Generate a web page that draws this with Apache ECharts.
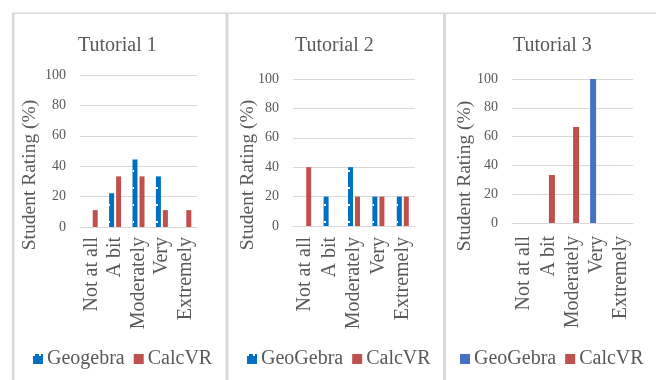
<!DOCTYPE html>
<html>
<head>
<meta charset="utf-8">
<script src="https://cdn.jsdelivr.net/npm/echarts@6/dist/echarts.min.js"></script>
<style>
  html, body { margin: 0; padding: 0; background: #fff; }
  #chart { width: 656px; height: 380px; }
</style>
</head>
<body>
<div id="chart"></div>
<script>
// Rating categories shared by all three tutorials
const categories = ['Not at all', 'A bit', 'Moderately', 'Very', 'Extremely'];

// Tutorial 1 ratings (%)
const t1Geogebra = [0, 22.2, 44.4, 33.3, 0];
const t1CalcVR = [11.1, 33.3, 33.3, 11.1, 11.1];

// Tutorial 2 ratings (%)
const t2GeoGebra = [0, 20, 40, 20, 20];
const t2CalcVR = [40, 0, 20, 20, 20];

// Tutorial 3 ratings (%)
const t3GeoGebra = [0, 0, 0, 100, 0];
const t3CalcVR = [0, 33.3, 66.7, 0, 0];

const panelTitles = ['Tutorial 1', 'Tutorial 2', 'Tutorial 3'];
const yAxisTitle = 'Student Rating (%)';

const FONT = 'Liberation Serif';
const TEXT = '#595959';
const GRIDLINE = '#d9d9d9';
const BLUE = '#0070c0';
const BLUE3 = '#4472c4';
const RED = '#c0504d';

// dotted fill used for the GeoGebra bars in the first two panels
const dots = {
  symbol: 'rect',
  symbolSize: 1,
  color: '#ffffff',
  dashArrayX: [1.5, 3.5],
  dashArrayY: [1.5, 14.5]
};

// series keys -> legend text
const legendText = {
  g1: 'Geogebra', c1: 'CalcVR',
  g2: 'GeoGebra', c2: 'CalcVR',
  g3: 'GeoGebra', c3: 'CalcVR'
};

const panels = [
  { left: 80, width: 117, top: 75, height: 152, barWidth: 5, barGap: '40%', labelMargin: 10,
    titleLeft: 78, nameX: 30, nameY: 175, legendLeft: 33,
    series: [['g1', t1Geogebra, BLUE, true], ['c1', t1CalcVR, RED, false]] },
  { left: 293, width: 122, top: 79, height: 147, barWidth: 5, barGap: '40%', labelMargin: 11,
    titleLeft: 295, nameX: 248, nameY: 175, legendLeft: 247,
    series: [['g2', t2GeoGebra, BLUE, true], ['c2', t2CalcVR, RED, false]] },
  { left: 512, width: 121, top: 79, height: 144, barWidth: 6, barGap: '20%', labelMargin: 13,
    titleLeft: 513, nameX: 465, nameY: 176, legendLeft: 460,
    series: [['g3', t3GeoGebra, BLUE3, false], ['c3', t3CalcVR, RED, false]] }
];

const option = {
  animation: false,
  backgroundColor: '#ffffff',
  textStyle: { fontFamily: FONT },
  aria: { enabled: false, decal: { show: false } },
  title: panels.map((p, i) => ({
    text: panelTitles[i],
    left: p.titleLeft,
    top: 36,
    padding: 0,
    textStyle: { fontFamily: FONT, fontSize: 20, fontWeight: 'normal', color: TEXT }
  })),
  grid: panels.map(p => ({ left: p.left, top: p.top, width: p.width, height: p.height, containLabel: false })),
  xAxis: panels.map((p, i) => ({
    type: 'category',
    gridIndex: i,
    data: categories,
    axisLine: { show: true, lineStyle: { color: GRIDLINE, width: 1 } },
    axisTick: { show: false },
    axisLabel: {
      rotate: 90,
      interval: 0,
      margin: p.labelMargin,
      fontFamily: FONT,
      fontSize: 20,
      color: TEXT
    }
  })),
  yAxis: panels.map((p, i) => ({
    type: 'value',
    gridIndex: i,
    min: 0,
    max: 100,
    interval: 20,
    axisLine: { show: false },
    axisTick: { show: false },
    splitLine: { lineStyle: { color: GRIDLINE, width: 1 } },
    axisLabel: { margin: 14, fontFamily: FONT, fontSize: 14, color: TEXT }
  })),
  legend: panels.map(p => ({
    left: p.legendLeft,
    top: 349,
    padding: 0,
    itemWidth: 10,
    itemHeight: 10,
    itemGap: 9,
    icon: 'rect',
    data: p.series.map(s => s[0]),
    formatter: name => legendText[name],
    textStyle: { fontFamily: FONT, fontSize: 20, color: TEXT, padding: [0, 0, 0, -1] }
  })),
  series: [],
  graphic: []
};

panels.forEach((p, i) => {
  p.series.forEach(([key, values, color, dotted]) => {
    option.series.push({
      type: 'bar',
      name: key,
      xAxisIndex: i,
      yAxisIndex: i,
      data: values,
      barWidth: p.barWidth,
      barGap: p.barGap,
      itemStyle: dotted ? { color: color, decal: dots } : { color: color }
    });
  });
  // rotated value-axis title
  option.graphic.push({
    type: 'text',
    x: p.nameX,
    y: p.nameY,
    rotation: Math.PI / 2,
    style: {
      text: yAxisTitle,
      fontFamily: FONT,
      fontSize: 19.5,
      fill: TEXT,
      textAlign: 'center',
      textVerticalAlign: 'middle'
    }
  });
});

// panel frames
const frame = [
  { x: 12, y: 12.5, width: 644, height: 1.5 },
  { x: 12, y: 13, width: 2.5, height: 367 },
  { x: 225.5, y: 13, width: 3, height: 367 },
  { x: 443, y: 13, width: 3, height: 367 }
];
frame.forEach(r => {
  option.graphic.push({ type: 'rect', shape: r, style: { fill: '#d9d9d9' }, silent: true });
});

const chart = echarts.init(document.getElementById('chart'), null, { renderer: 'canvas' });
chart.setOption(option);
</script>
</body>
</html>
